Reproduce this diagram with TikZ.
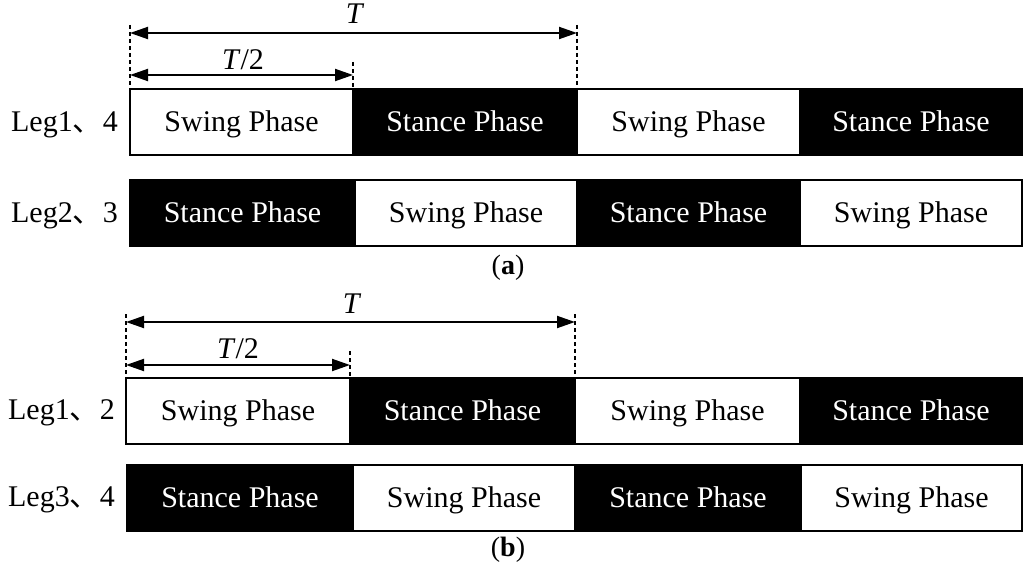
\documentclass[tikz,border=0pt]{standalone}
\usepackage{fontspec}
\setmainfont{Liberation Serif}
\newfontfamily\cjk{Noto Sans CJK SC}
\usetikzlibrary{arrows.meta}
\begin{document}
\begin{tikzpicture}[x=1pt,y=-1pt,font=\fontsize{30}{36}\selectfont,
  seg/.style={draw,line width=2pt,minimum height=66pt,inner sep=0pt,outer sep=0pt,anchor=north west,text height=20pt,text depth=1pt},
  sw/.style={seg,fill=white,text=black},
  st/.style={seg,fill=black,text=white},
  dimarrow/.style={line width=2pt,{Triangle[length=18pt,width=12pt]}-{Triangle[length=18pt,width=12pt]}},
  guide/.style={line width=1.1pt,dash pattern=on 4pt off 3pt},
  leg/.style={anchor=east,inner sep=0pt,text height=20pt,text depth=1pt},
  captext/.style={font=\fontsize{28}{32}\selectfont}]
\useasboundingbox (0,0) rectangle (1034,575);
% ---------- (a) ----------
\node[sw,minimum width=223pt] (a11) at (130,89) {Swing Phase};
\node[st,minimum width=224pt] (a12) at (353,89) {Stance Phase};
\node[sw,minimum width=223pt] (a13) at (577,89) {Swing Phase};
\node[st,minimum width=222pt] (a14) at (800,89) {Stance Phase};
\node[st,minimum width=225pt] (a21) at (130,180) {Stance Phase};
\node[sw,minimum width=222pt] (a22) at (355,180) {Swing Phase};
\node[st,minimum width=223pt] (a23) at (577,180) {Stance Phase};
\node[sw,minimum width=222pt] (a24) at (800,180) {Swing Phase};
\node[leg] (la1) at (118,122) {Leg1{\cjk 、}4};
\node[leg] (la2) at (118,213) {Leg2{\cjk 、}3};
\coordinate (ga0) at (130,25);
\coordinate (ga1) at (353,62);
\coordinate (ga2) at (577,25);
\draw[guide] (ga0) -- (a11.north west);
\draw[guide] (ga1) -- (a12.north west);
\draw[guide] (ga2) -- (a13.north west);
\coordinate (aTl) at (130,33);
\coordinate (aTr) at (577,33);
\coordinate (aHl) at (130,75);
\coordinate (aHr) at (353,75);
\draw[dimarrow] (aTl) -- (aTr);
\draw[dimarrow] (aHl) -- (aHr);
\node (aT) at (355,14) {\textit{T}};
\node (aH) at (243,60) {\textit{T}/2};
\node[captext] (capa) at (508,268) {(\textbf{a})};
% ---------- (b) ----------
\node[sw,minimum width=224pt] (b11) at (126,378) {Swing Phase};
\node[st,minimum width=225pt] (b12) at (350,378) {Stance Phase};
\node[sw,minimum width=225pt] (b13) at (575,378) {Swing Phase};
\node[st,minimum width=222pt] (b14) at (800,378) {Stance Phase};
\node[st,minimum width=226pt] (b21) at (127,465) {Stance Phase};
\node[sw,minimum width=222pt] (b22) at (353,465) {Swing Phase};
\node[st,minimum width=226pt] (b23) at (575,465) {Stance Phase};
\node[sw,minimum width=221pt] (b24) at (801,465) {Swing Phase};
\node[leg] (lb1) at (115,410) {Leg1{\cjk 、}2};
\node[leg] (lb2) at (115,497) {Leg3{\cjk 、}4};
\coordinate (gb0) at (126,314);
\coordinate (gb1) at (350,351);
\coordinate (gb2) at (575,314);
\draw[guide] (gb0) -- (b11.north west);
\draw[guide] (gb1) -- (b12.north west);
\draw[guide] (gb2) -- (b13.north west);
\coordinate (bTl) at (126,322);
\coordinate (bTr) at (575,322);
\coordinate (bHl) at (126,365);
\coordinate (bHr) at (350,365);
\draw[dimarrow] (bTl) -- (bTr);
\draw[dimarrow] (bHl) -- (bHr);
\node (bT) at (352,304) {\textit{T}};
\node (bH) at (238,349) {\textit{T}/2};
\node[captext] (capb) at (508,550) {(\textbf{b})};
\end{tikzpicture}
\end{document}
